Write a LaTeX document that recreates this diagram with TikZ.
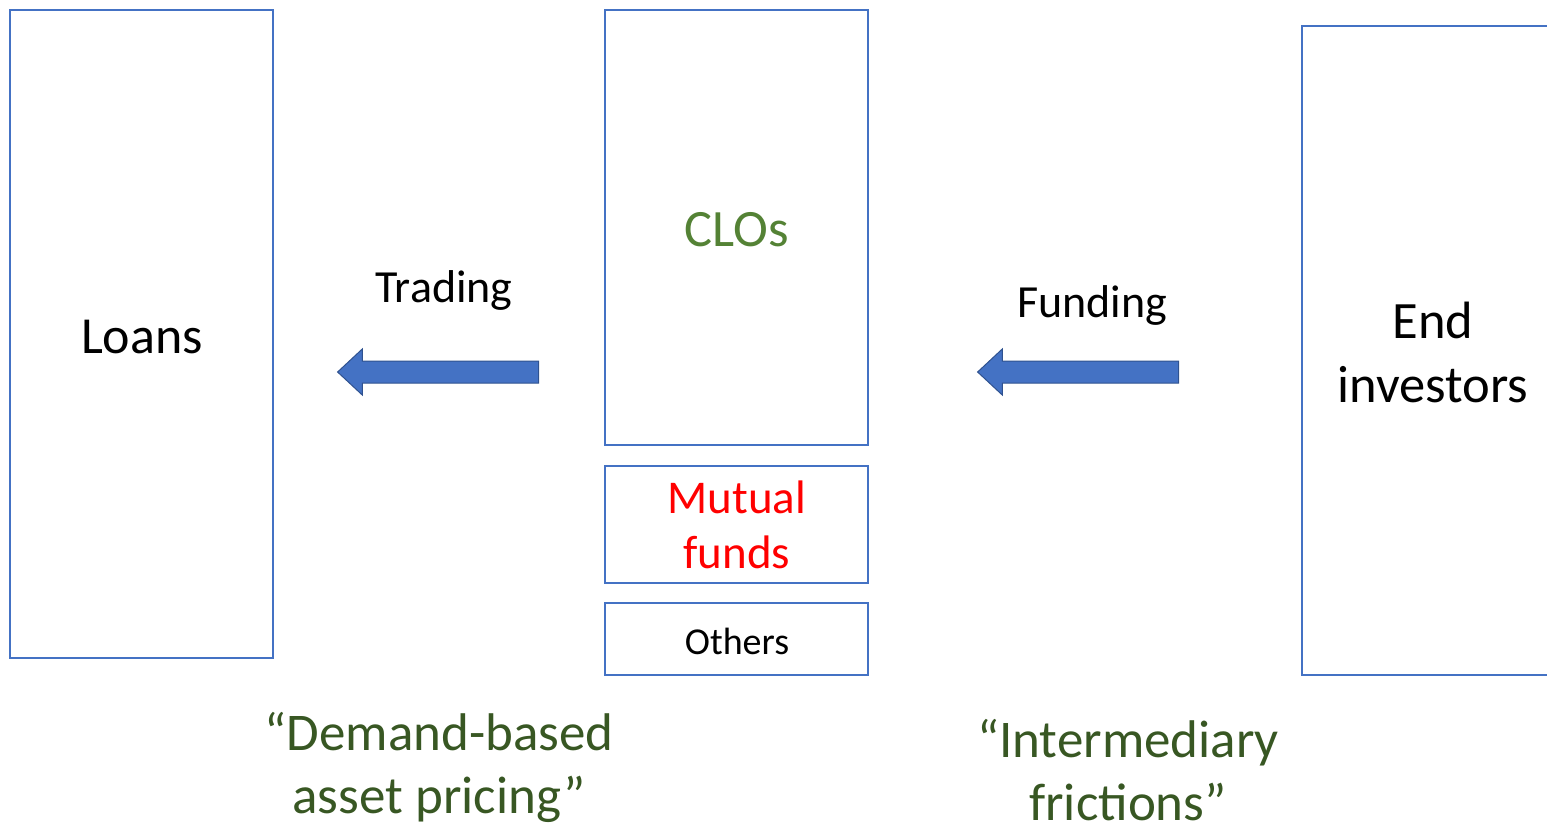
\documentclass[tikz,border=0pt]{standalone}
\usepackage{fontspec}
\setmainfont{Carlito}
\usetikzlibrary{shapes.arrows}
\definecolor{boxblue}{HTML}{4472C4}
\definecolor{arrowedge}{HTML}{2F528F}
\definecolor{clogreen}{HTML}{548235}
\definecolor{quotegreen}{HTML}{385723}
\tikzset{
  box/.style={draw=boxblue, line width=1.6pt, fill=none},
  bigarrow/.style={single arrow, shape border rotate=180, fill=boxblue, draw=arrowedge, line width=1pt,
    minimum height=201pt, minimum width=45pt, single arrow head extend=12pt, inner sep=0pt, text height=21pt,
    single arrow tip angle=86, anchor=center},
  lbl/.style={inner sep=0pt, align=center},
}
\begin{document}
\begin{tikzpicture}[x=1pt,y=-1pt]
\useasboundingbox (0,0) rectangle (1547,825);
\clip (0,0) rectangle (1547,825);
% boxes
\draw[box] (10,10) rectangle (273,658);
\draw[box] (605,10) rectangle (868,445);
\draw[box] (605,466) rectangle (868,583);
\draw[box] (605,603) rectangle (868,675);
\draw[box] (1302,26) rectangle (1580,675);
% labels in boxes
\node[lbl, font=\fontsize{52}{62}\selectfont] (loans) at (142,337) {Loans};
\node[lbl, font=\fontsize{52.5}{62}\selectfont, text=clogreen] (clos) at (737,230) {CLOs};
\node[lbl, font=\fontsize{47}{55}\selectfont, text=red] (mf) at (737,525) {Mutual\\funds};
\node[lbl, font=\fontsize{38}{44}\selectfont] (others) at (737,641) {Others};
\node[lbl, font=\fontsize{52.5}{64}\selectfont] (end) at (1433,352) {End\\investors};
% arrows
\node[bigarrow] (tradearrow) at (444,372) {};
\node[bigarrow] (fundarrow) at (1084,372) {};
\node[lbl, font=\fontsize{46}{54}\selectfont] (trading) at (444,290) {Trading};
\node[lbl, font=\fontsize{46}{54}\selectfont] (funding) at (1092,305) {Funding};
% quotes
\node[lbl, font=\fontsize{53}{63}\selectfont, text=quotegreen] (dbap) at (439,767) {“Demand-based\\asset pricing”};
\node[lbl, font=\fontsize{53}{63}\selectfont, text=quotegreen] (imf) at (1128,770) {“Intermediary\\frictions”};
\end{tikzpicture}
\end{document}
